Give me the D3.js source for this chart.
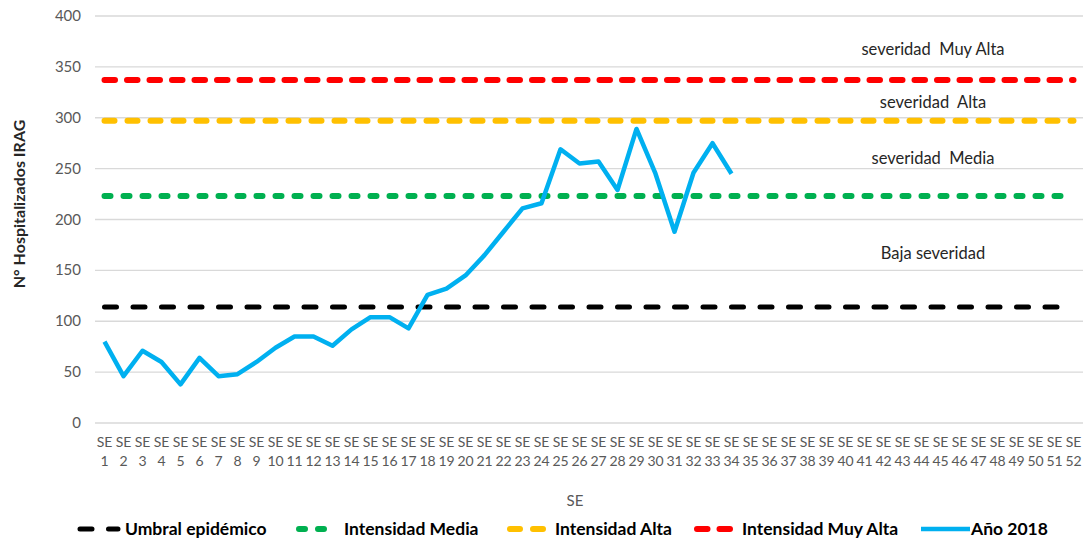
<!DOCTYPE html>
<html>
<head>
<meta charset="utf-8">
<script src="https://cdn.jsdelivr.net/npm/d3@7"></script>
<style>
  body { margin: 0; background: #fff; }
  svg { display: block; font-family: Lato, "Open Sans", sans-serif; }
</style>
</head>
<body>
<div id="chart"></div>
<script>
const width = 1086;
const height = 541;

// weeks SE 1..52
const weeks = d3.range(1, 53);
const cases2018 = [80, 46, 71, 60, 38, 64, 46, 48, 60, 74, 85, 85, 76, 92, 104, 104, 93,
  126, 132, 145, 165, 188, 211, 216, 269, 255, 257, 229, 289, 245, 188, 246, 275, 245];
const thresholds = [
  { name: "Umbral epidémico", value: 114 },
  { name: "Intensidad Media", value: 223 },
  { name: "Intensidad Alta", value: 297 },
  { name: "Intensidad Muy Alta", value: 337 }
];
const yTicks = [0, 50, 100, 150, 200, 250, 300, 350, 400];
const zoneLabels = [
  { text: "severidad  Muy Alta", value: 362 },
  { text: "severidad  Alta", value: 310 },
  { text: "severidad  Media", value: 255 },
  { text: "Baja severidad", value: 161 }
];

const lineStyle = {
  "Umbral epidémico": { color: "#000000", w: 5, dash: "12 16.5" },
  "Intensidad Media": { color: "#00b050", w: 6, dash: "6 13" },
  "Intensidad Alta": { color: "#ffc000", w: 6, dash: "10 13" },
  "Intensidad Muy Alta": { color: "#ff0000", w: 6, dash: "10.5 12" },
  "Año 2018": { color: "#00b0f0", w: 4.5, dash: null }
};

const svg = d3.select("#chart")
    .append("svg")
    .attr("width", width)
    .attr("height", height);

const x = d3.scaleBand()
    .domain(weeks)
    .range([95, 1083]);

const y = d3.scaleLinear()
    .domain([0, 400])
    .range([423, 16]);

const cx = d => x(d) + x.bandwidth() / 2;

// gridlines + y labels
svg.append("g")
    .selectAll("line")
    .data(yTicks)
    .enter()
    .append("line")
    .attr("x1", 95)
    .attr("x2", 1083)
    .attr("y1", d => y(d))
    .attr("y2", d => y(d))
    .attr("stroke", "#d9d9d9")
    .attr("stroke-width", 1.3);

svg.append("g")
    .selectAll("text")
    .data(yTicks)
    .enter()
    .append("text")
    .attr("x", 81)
    .attr("y", d => y(d) + 5)
    .attr("text-anchor", "end")
    .attr("fill", "#595959")
    .style("font-size", "15px")
    .text(d => d);

// x tick labels, two lines each
const xt = svg.append("g")
    .selectAll("text")
    .data(weeks)
    .enter()
    .append("text")
    .attr("text-anchor", "middle")
    .attr("fill", "#595959")
    .style("font-size", "14px");
xt.append("tspan").attr("x", d => cx(d)).attr("y", 447).text("SE");
xt.append("tspan").attr("x", d => cx(d)).attr("y", 466).text(d => d);

svg.append("text")
    .attr("x", 575)
    .attr("y", 506)
    .attr("text-anchor", "middle")
    .attr("fill", "#595959")
    .style("font-size", "15px")
    .text("SE");

svg.append("text")
    .attr("transform", "translate(25,204) rotate(-90)")
    .attr("text-anchor", "middle")
    .attr("fill", "#262626")
    .style("font-size", "16px")
    .style("font-weight", "bold")
    .text("N° Hospitalizados IRAG");

// threshold lines
const flat = d3.line().x(d => cx(d[0])).y(d => y(d[1]));
svg.append("g")
    .selectAll("path")
    .data(thresholds)
    .enter()
    .append("path")
    .attr("d", t => flat(weeks.map(w => [w, t.value])))
    .attr("fill", "none")
    .attr("stroke", t => lineStyle[t.name].color)
    .attr("stroke-width", t => lineStyle[t.name].w)
    .attr("stroke-dasharray", t => lineStyle[t.name].dash)
    .attr("stroke-linecap", "round");

// 2018 series
svg.append("path")
    .datum(cases2018.map((v, i) => [weeks[i], v]))
    .attr("d", flat)
    .attr("fill", "none")
    .attr("stroke", lineStyle["Año 2018"].color)
    .attr("stroke-width", lineStyle["Año 2018"].w)
    .attr("stroke-linejoin", "round");

// zone labels
svg.append("g")
    .selectAll("text")
    .data(zoneLabels)
    .enter()
    .append("text")
    .attr("x", 933)
    .attr("y", d => y(d.value))
    .attr("text-anchor", "middle")
    .attr("fill", "#262626")
    .attr("xml:space", "preserve")
    .style("white-space", "pre")
    .style("font-size", "16.5px")
    .text(d => d.text);

// legend (text start positions as in the original layout)
const legendItems = thresholds.map(t => t.name).concat(["Año 2018"]);
const legendX = [125, 344, 555, 742, 971];
const legend = svg.append("g");
legendItems.forEach((name, i) => {
  const s = lineStyle[name];
  const tx = legendX[i];
  legend.append("line")
      .attr("x1", s.dash ? tx - 45 : tx - 50)
      .attr("x2", s.dash ? tx - 7 : tx - 1)
      .attr("y1", 529)
      .attr("y2", 529)
      .attr("stroke", s.color)
      .attr("stroke-width", s.w)
      .attr("stroke-dasharray", s.dash)
      .attr("stroke-linecap", s.dash ? "round" : "butt");
  legend.append("text")
      .attr("x", tx)
      .attr("y", 535)
      .attr("fill", "#000")
      .style("font-size", "17.5px")
      .style("font-weight", "bold")
      .text(name);
});
</script>
</body>
</html>
